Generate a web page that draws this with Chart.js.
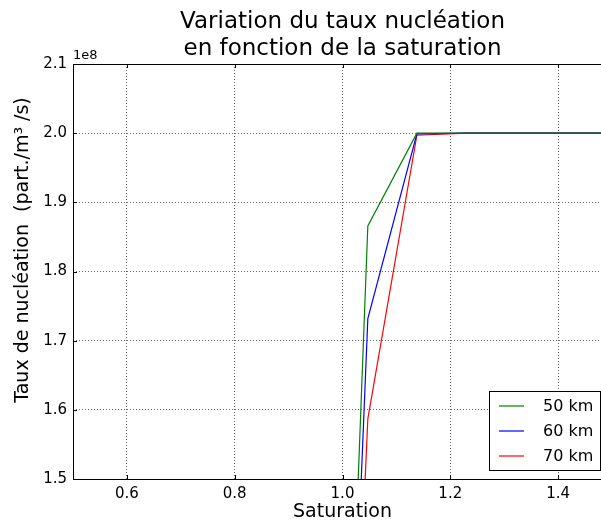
<!DOCTYPE html>
<html>
<head>
<meta charset="utf-8">
<script src="https://cdn.jsdelivr.net/npm/chart.js@4/dist/chart.umd.min.js"></script>
<style>
  html, body { margin: 0; padding: 0; background: #fff; overflow: hidden; }
  #wrap { width: 601px; height: 524px; overflow: hidden; }
</style>
</head>
<body>
<div id="wrap"><canvas id="myChart" width="620" height="524"></canvas></div>
<script>
Chart.defaults.font.family = '"DejaVu Sans", sans-serif';
Chart.defaults.color = '#000';

const saturation = [0.5, 0.591, 0.683, 0.774, 0.865, 0.956, 1.047, 1.138, 1.229, 1.32, 1.411, 1.502];
const rate50 = [0, 0, 0, 0, 0, 0, 1.866e8, 2.0e8, 2.0e8, 2.0e8, 2.0e8, 2.0e8];
const rate60 = [0, 0, 0, 0, 0, 0, 1.732e8, 1.999e8, 2.0e8, 2.0e8, 2.0e8, 2.0e8];
const rate70 = [0, 0, 0, 0, 0, 0, 1.587e8, 1.997e8, 2.0e8, 2.0e8, 2.0e8, 2.0e8];
const seriesLabels = ['50 km', '60 km', '70 km'];
const xTicks = [0.6, 0.8, 1.0, 1.2, 1.4];
const yTicks = [1.5, 1.6, 1.7, 1.8, 1.9, 2.0, 2.1]; // x 1e8

const titleLines = ['Variation du taux nucléation', 'en fonction de la saturation'];
const xLabel = 'Saturation';
const yLabel = 'Taux de nucléation  (part./m³ /s)';

const ctx = document.getElementById('myChart');

let pts = function(ys) {
  return saturation.map((s, i) => ({x: s, y: ys[i]}));
};

let mkSet = function(label, ys, color) {
  return {
    label: label,
    data: pts(ys),
    borderColor: color,
    backgroundColor: color,
    borderWidth: 1.2,
    pointRadius: 0,
    tension: 0,
    fill: false
  };
};

// frame, inward ticks, titles, offset text and legend, matplotlib style
const decor = {
  id: 'decor',
  afterDraw(chart) {
    const c = chart.ctx;
    const a = chart.chartArea;
    const xs = chart.scales.x, ys = chart.scales.y;
    c.save();
    c.strokeStyle = '#000';
    c.lineWidth = 1;
    c.strokeRect(a.left + 0.5, a.top + 0.5, a.right - a.left - 1, a.bottom - a.top);

    // inward ticks
    c.beginPath();
    for (const t of xTicks) {
      const px = Math.round(xs.getPixelForValue(t)) + 0.5;
      c.moveTo(px, a.bottom); c.lineTo(px, a.bottom - 4);
      c.moveTo(px, a.top); c.lineTo(px, a.top + 4);
    }
    for (const t of yTicks) {
      const py = Math.round(ys.getPixelForValue(t * 1e8)) + 0.5;
      c.moveTo(a.left, py); c.lineTo(a.left + 4, py);
      c.moveTo(a.right, py); c.lineTo(a.right - 4, py);
    }
    c.stroke();

    c.fillStyle = '#000';
    c.textAlign = 'center';
    c.textBaseline = 'middle';
    const cx = (a.left + a.right) / 2;
    c.font = '23px "DejaVu Sans"';
    c.fillText(titleLines[0], cx + 0, 22);
    c.fillText(titleLines[1], cx + 0, 49);

    c.font = '19px "DejaVu Sans"';
    c.fillText(xLabel, cx + 0, 512);

    c.save();
    c.translate(23, 250);
    c.rotate(-Math.PI / 2);
    c.fillText(yLabel, 0, 0);
    c.restore();

    c.font = '13px "DejaVu Sans"';
    c.textAlign = 'left';
    c.textBaseline = 'alphabetic';
    c.fillText('1e8', a.left, a.top - 5);

    // legend box, lower right
    const bw = 111, bh = 79;
    const bx = a.left + 416, by = a.bottom - 9 - bh;
    c.fillStyle = '#fff';
    c.fillRect(bx, by, bw, bh);
    c.strokeStyle = '#000';
    c.lineWidth = 1;
    c.strokeRect(bx + 0.5, by + 0.5, bw, bh);
    c.font = '16px "DejaVu Sans"';
    c.textBaseline = 'middle';
    chart.data.datasets.forEach((ds, i) => {
      const ly = by + 15 + i * 25;
      c.strokeStyle = ds.borderColor;
      c.lineWidth = 1.2;
      c.beginPath();
      c.moveTo(bx + 10, ly); c.lineTo(bx + 35, ly);
      c.stroke();
      c.fillStyle = '#000';
      c.fillText(ds.label, bx + 54, ly + 1);
    });
    c.restore();
  }
};

let config = {
  type: 'line',
  data: {
    datasets: [
      mkSet(seriesLabels[0], rate50, '#008000'),
      mkSet(seriesLabels[1], rate60, '#0000ff'),
      mkSet(seriesLabels[2], rate70, '#ff0000')
    ]
  },
  options: {
    responsive: false,
    animation: false,
    devicePixelRatio: 1,
    layout: { padding: { top: 64, right: 8, left: 0, bottom: 0 } },
    plugins: {
      legend: { display: false },
      title: { display: false },
      tooltip: { enabled: false }
    },
    scales: {
      x: {
        type: 'linear',
        min: 0.5,
        max: 1.5,
        afterBuildTicks: s => { s.ticks = xTicks.map(v => ({value: v})); },
        afterFit: s => { s.height = 45; },
        ticks: {
          font: { size: 15 },
          padding: 6,
          maxRotation: 0,
          callback: v => v.toFixed(1)
        },
        grid: { color: 'rgba(0,0,0,0.75)', lineWidth: 0.8, drawTicks: false },
        border: { display: false, dash: [1, 2] }
      },
      y: {
        min: 1.5e8,
        max: 2.1e8,
        afterBuildTicks: s => { s.ticks = yTicks.map(v => ({value: v * 1e8})); },
        afterFit: s => { s.width = 73; },
        ticks: {
          font: { size: 15 },
          padding: 6,
          callback: v => (v / 1e8).toFixed(1)
        },
        grid: { color: 'rgba(0,0,0,0.75)', lineWidth: 0.8, drawTicks: false },
        border: { display: false, dash: [1, 2] }
      }
    }
  },
  plugins: [decor]
};

let chart = new Chart(ctx, config);
</script>
</body>
</html>
